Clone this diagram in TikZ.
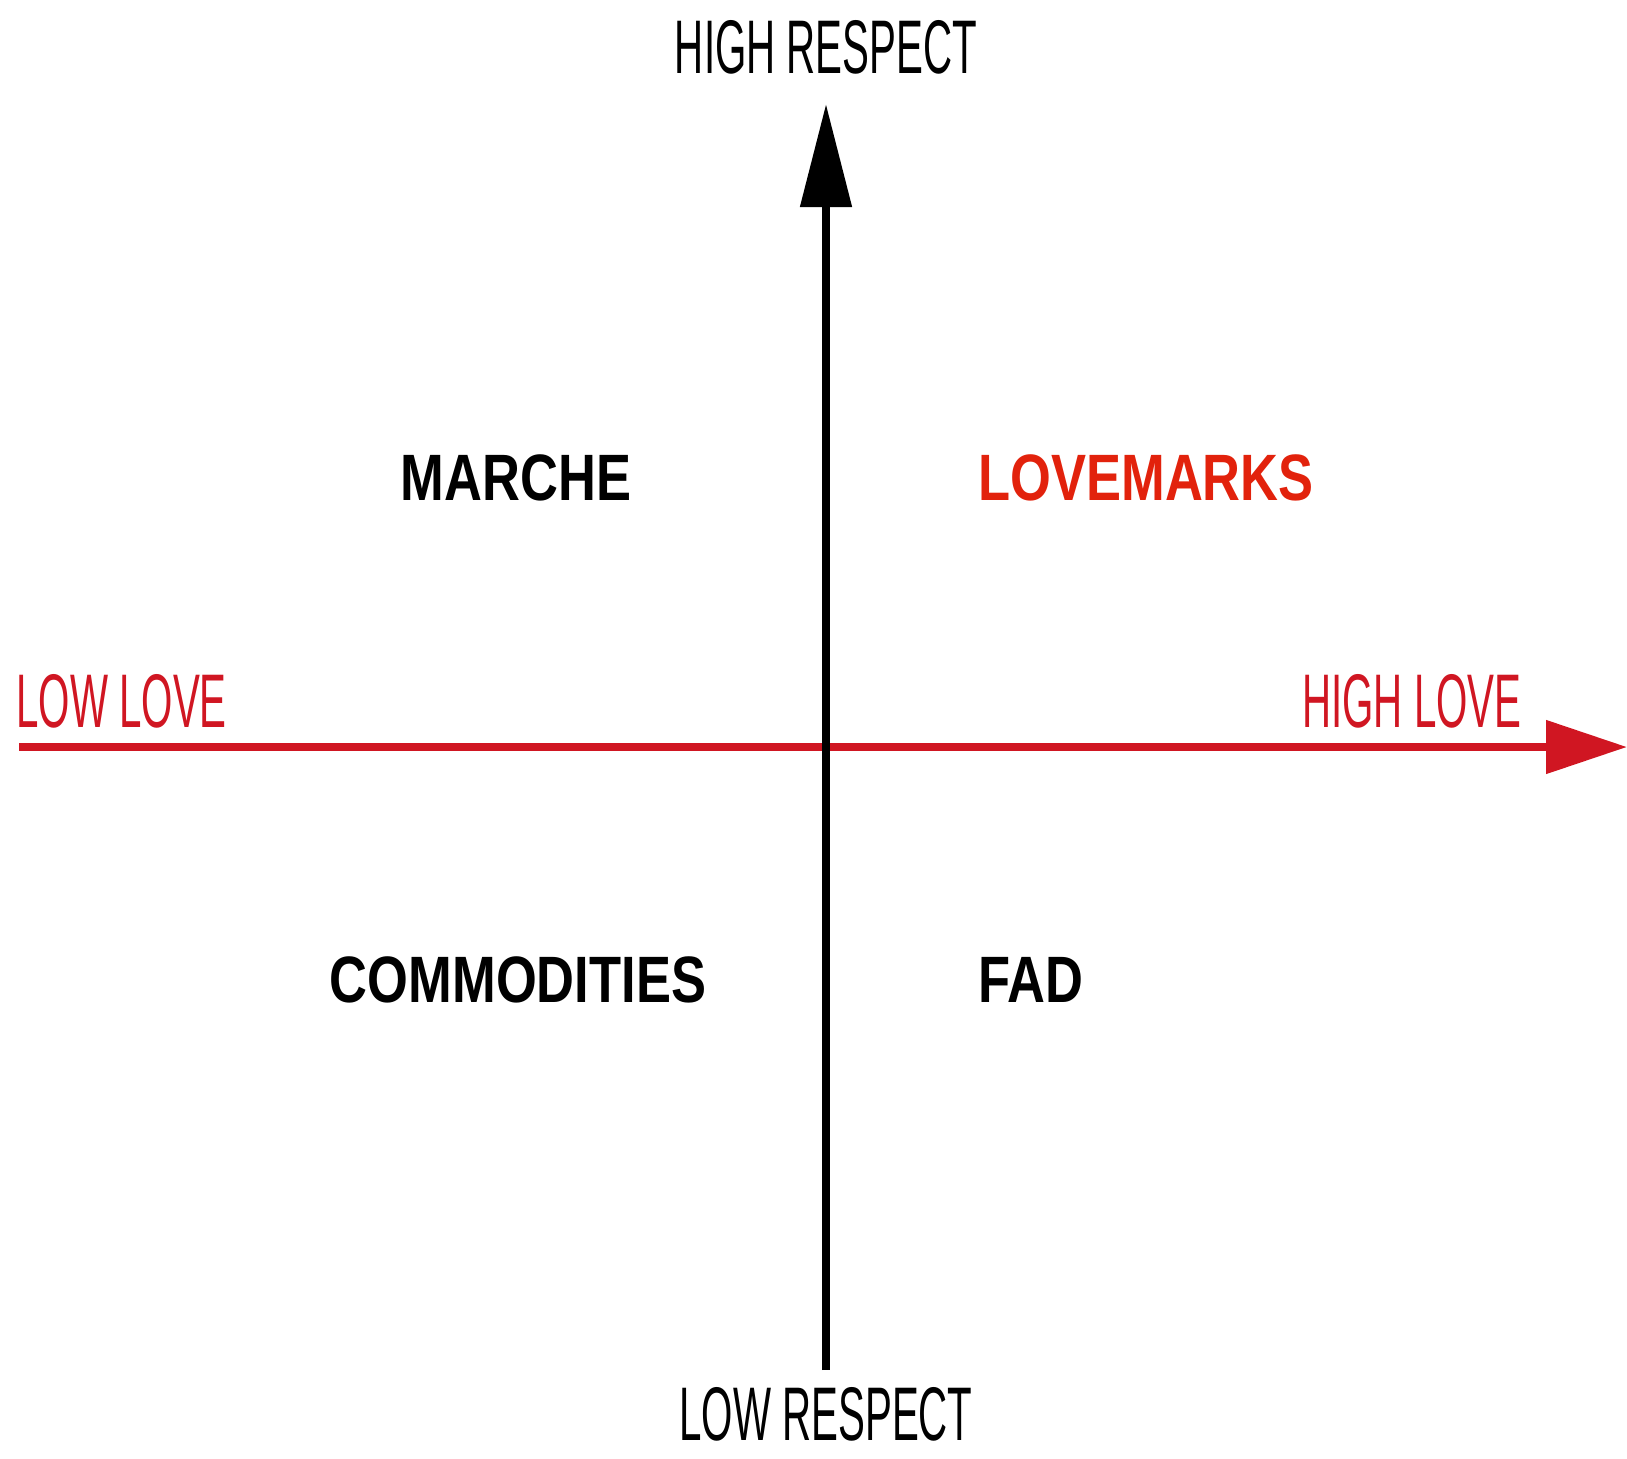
\documentclass[tikz,border=0pt]{standalone}
\usepackage{fontspec}
\setmainfont{Liberation Sans}
\newfontfamily\handfont[FakeStretch=0.53]{Liberation Sans}
\newfontfamily\quadfont[FakeStretch=0.8]{Liberation Sans}
\usetikzlibrary{arrows.meta, positioning}
\definecolor{loveaxis}{RGB}{208, 22, 34}
\definecolor{lovered}{RGB}{226, 34, 12}

\begin{document}
\begin{tikzpicture}[
            x=0.5pt, y=-0.5pt,
            hand/.style={inner sep=0pt, font=\handfont\fontsize{38}{42}\selectfont},
            quad/.style={inner sep=0pt, font=\quadfont\bfseries\fontsize{32.8}{36}\selectfont},
            respaxis/.style={line width=4pt, -{Triangle[length=51.5pt, width=25pt]}},
            lovearrow/.style={line width=4pt, loveaxis, -{Triangle[length=40.5pt, width=26pt]}},
        ]
            \useasboundingbox (0,0) rectangle (1627,1458);
            % axes
            \coordinate (lovestart) at (19,747);
            \coordinate (loveend) at (1627,747);
            \coordinate (respstart) at (826,1370);
            \coordinate (respend) at (826,104);
            \draw[lovearrow] (lovestart) -- (loveend);
            \draw[respaxis] (respstart) -- (respend);

            % axis labels
            \node[hand] (highresp) at (826,47) {HIGH RESPECT};
            \node[hand] (lowresp) at (826,1414) {LOW RESPECT};
            \node[hand, text=loveaxis, anchor=west] (lowlove) at (16,701) {LOW LOVE};
            \node[hand, text=loveaxis, anchor=east] (highlove) at (1522,701) {HIGH LOVE};

            % quadrants
            \node[quad] (marche) at (516,478) {MARCHE};
            \node[quad, text=lovered, anchor=west] (lovemarks) at (978,478) {LOVEMARKS};
            \node[quad] (commod) at (518,980) {COMMODITIES};
            \node[quad, anchor=west] (fad) at (978,980) {FAD};
        \end{tikzpicture}
\end{document}
